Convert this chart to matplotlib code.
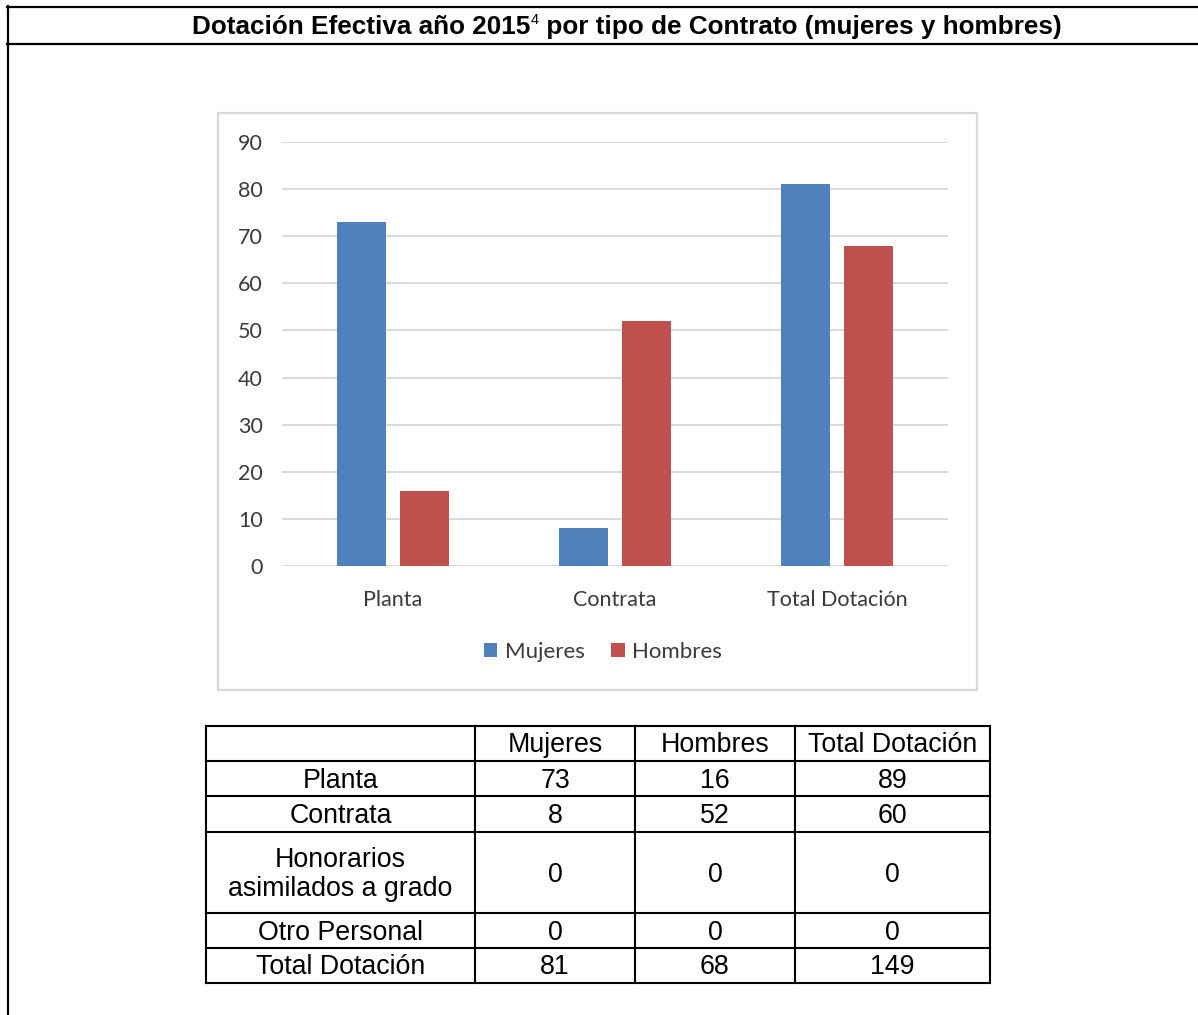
import numpy as np
import matplotlib
matplotlib.use("Agg")
import matplotlib.pyplot as plt
from matplotlib import font_manager
from matplotlib.patches import Rectangle
from matplotlib.lines import Line2D

# chart data
categorias = ["Planta", "Contrata", "Total Dotación"]
mujeres = [73, 8, 81]
hombres = [16, 52, 68]
series = ["Mujeres", "Hombres"]
yticks = [0, 10, 20, 30, 40, 50, 60, 70, 80, 90]

# table data
filas = ["Planta", "Contrata", "Honorarios\nasimilados a grado", "Otro Personal", "Total Dotación"]
columnas = ["", "Mujeres", "Hombres", "Total Dotación"]
tab_mujeres = [73, 8, 0, 0, 81]
tab_hombres = [16, 52, 0, 0, 68]
tab_total = [89, 60, 0, 0, 149]

W, H = 1198, 1015
def fx(px):
    return px / W
def fy(py):
    return 1 - py / H

names = {f.name for f in font_manager.fontManager.ttflist}
title_font = "Liberation Sans Narrow" if "Liberation Sans Narrow" in names else "Liberation Sans"
chart_font = "Lato"

fig = plt.figure(figsize=(W / 100, H / 100), dpi=100)

# outer frame
for xs, ys in [((7, W), (7, 7)), ((7, W), (44, 44)), ((8, 8), (6, H))]:
    fig.add_artist(Line2D([fx(v) for v in xs], [fy(v) for v in ys], color="black", lw=1.6,
                          transform=fig.transFigure))

# title in three pieces (superscript 4)
fig.canvas.draw()
r = fig.canvas.get_renderer()
tsize = 22 if title_font.endswith("Narrow") else 18.8
t1 = fig.text(0, fy(27), "Dotación Efectiva año 2015", fontsize=tsize, fontweight="bold",
              family=title_font, va="center")
t2 = fig.text(0, fy(20), "4", fontsize=tsize * 0.55, family=title_font, va="center")
t3 = fig.text(0, fy(27), " por tipo de Contrato (mujeres y hombres)", fontsize=tsize,
              fontweight="bold", family=title_font, va="center")
w1 = t1.get_window_extent(r).width
w2 = t2.get_window_extent(r).width
w3 = t3.get_window_extent(r).width
x0 = 626 - (w1 + w2 + w3) / 2
t1.set_x(fx(x0))
t2.set_x(fx(x0 + w1 + 1))
t3.set_x(fx(x0 + w1 + w2 + 1))

# chart box
fig.add_artist(Rectangle((fx(218), fy(690)), fx(977) - fx(218), fy(113) - fy(690),
                         transform=fig.transFigure, fill=False, edgecolor="#D9D9D9", lw=1.6))

ax = fig.add_axes([fx(282), fy(566), fx(948) - fx(282), fy(142) - fy(566)])
x = np.arange(len(categorias))
bw = 0.225
ax.bar(x - 0.142, mujeres, bw, color="#4F81BD", label=series[0], zorder=3)
ax.bar(x + 0.142, hombres, bw, color="#C0504D", label=series[1], zorder=3)
ax.set_xlim(-0.5, 2.5)
ax.set_ylim(0, 90)
ax.set_yticks(yticks)
ax.set_xticks(x)
ax.set_xticklabels(categorias)
ax.grid(axis="y", color="#D9D9D9", lw=1.4, zorder=0)
for s in ax.spines.values():
    s.set_visible(False)
ax.tick_params(axis="both", length=0, labelsize=15.5, colors="#3A3A3A")
ax.tick_params(axis="y", pad=14)
ax.tick_params(axis="x", pad=17)
for lab in ax.get_xticklabels() + ax.get_yticklabels():
    lab.set_family(chart_font)
leg = ax.legend(loc="center", bbox_to_anchor=(fx(603), fy(652)), bbox_transform=fig.transFigure,
                ncol=2, frameon=False, handlelength=0.6, handleheight=0.6, handletextpad=0.35,
                columnspacing=1.2, prop={"family": chart_font, "size": 16})
for t in leg.get_texts():
    t.set_color("#3A3A3A")

# table
col_x = [206, 475, 635, 795, 990]
row_y = [726, 761, 796, 832, 913, 948, 983]
lw_t = 1.5
for yy in row_y:
    fig.add_artist(Line2D([fx(col_x[0]), fx(col_x[-1])], [fy(yy), fy(yy)], color="black", lw=lw_t,
                          transform=fig.transFigure))
for xx in col_x:
    fig.add_artist(Line2D([fx(xx), fx(xx)], [fy(row_y[0]), fy(row_y[-1])], color="black", lw=lw_t,
                          transform=fig.transFigure))

def cell(c, rr, txt):
    cx = (col_x[c] + col_x[c + 1]) / 2
    cy = (row_y[rr] + row_y[rr + 1]) / 2
    fig.text(fx(cx), fy(cy + 2), txt, ha="center", va="center", fontsize=19.3,
             family="Liberation Sans", linespacing=1.15)

for c, name in enumerate(columnas):
    if name:
        cell(c, 0, name)
for i, name in enumerate(filas):
    cell(0, i + 1, name)
    cell(1, i + 1, str(tab_mujeres[i]))
    cell(2, i + 1, str(tab_hombres[i]))
    cell(3, i + 1, str(tab_total[i]))

fig.savefig("out.png", dpi=100)
